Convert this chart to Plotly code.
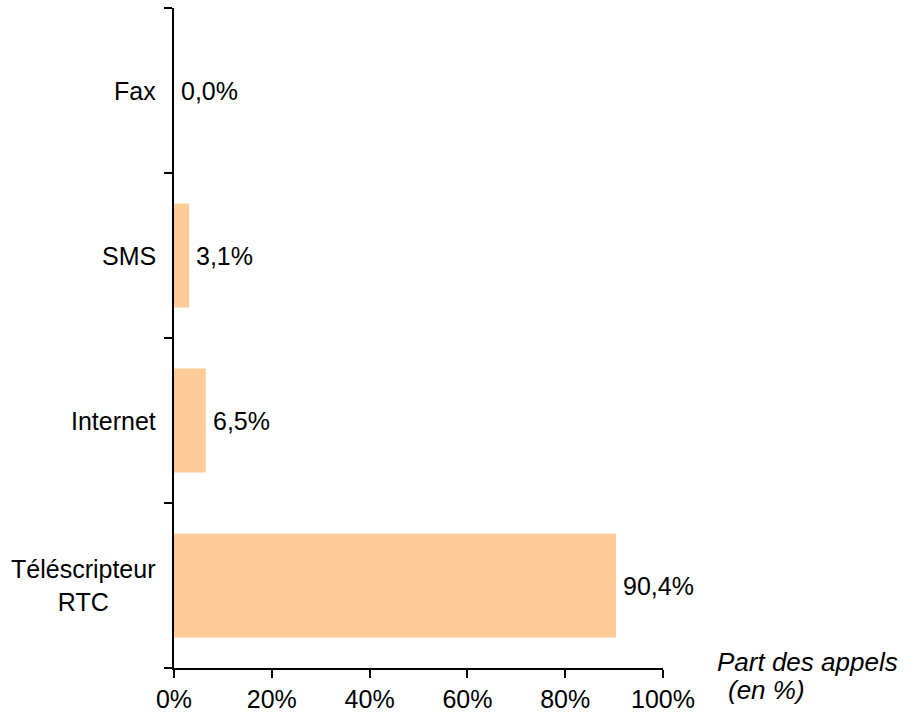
import plotly.graph_objects as go

categories = ["Téléscripteur<br>RTC", "Internet", "SMS", "Fax"]
values = [90.4, 6.5, 3.1, 0.0]
value_labels = ["90,4%", "6,5%", "3,1%", "0,0%"]
x_ticks = [0, 20, 40, 60, 80, 100]
x_tick_labels = ["0%", "20%", "40%", "60%", "80%", "100%"]
axis_title_lines = ["Part des appels", "(en %)"]

FONT = "Liberation Sans, Arial, Helvetica, sans-serif"
FS = 25
pos = list(range(len(categories)))

fig = go.Figure()
fig.add_trace(go.Bar(
    x=values, y=pos, orientation="h", width=0.63,
    marker=dict(color="#FFCC99", line=dict(width=0)),
    hoverinfo="skip",
))

annotations = []
for p, v, lab in zip(pos, values, value_labels):
    annotations.append(dict(x=v, y=p, xref="x", yref="y", text=lab, showarrow=False,
                            xanchor="left", yanchor="middle", xshift=5,
                            font=dict(family=FONT, size=FS, color="black")))
for p, c in zip(pos, categories):
    annotations.append(dict(x=0, y=p, xref="paper", yref="y", text=c, showarrow=False,
                            xanchor="right", yanchor="middle", align="center", xshift=-16,
                            font=dict(family=FONT, size=FS, color="black")))
for line, xs, ys in zip(axis_title_lines, [52, 63], [6, -22]):
    annotations.append(dict(x=1, y=0, xref="paper", yref="paper", text="<i>" + line + "</i>",
                            showarrow=False, xanchor="left", yanchor="middle",
                            xshift=xs, yshift=ys,
                            font=dict(family=FONT, size=26, color="black")))

fig.update_layout(
    width=909, height=718,
    margin=dict(l=174, r=246, t=8, b=50, autoexpand=False),
    plot_bgcolor="white", paper_bgcolor="white",
    showlegend=False,
    annotations=annotations,
    font=dict(family=FONT, size=FS, color="black"),
)
fig.update_xaxes(range=[0, 100], tickvals=x_ticks, ticktext=x_tick_labels, automargin=False,
                 showgrid=False, zeroline=False, showline=True, linecolor="black", linewidth=2,
                 ticks="outside", ticklen=8, tickwidth=2, tickcolor="black",
                 tickfont=dict(family=FONT, size=FS, color="black"))
fig.update_yaxes(range=[-0.5, 3.5], tickvals=[-0.5, 0.5, 1.5, 2.5, 3.5], automargin=False,
                 ticktext=["", "", "", "", ""],
                 showgrid=False, zeroline=False, showline=True, linecolor="black", linewidth=2,
                 ticks="outside", ticklen=8, tickwidth=2, tickcolor="black")

fig.write_html("out.html", config={"displayModeBar": False},
               post_script="document.body.style.margin='0';")
